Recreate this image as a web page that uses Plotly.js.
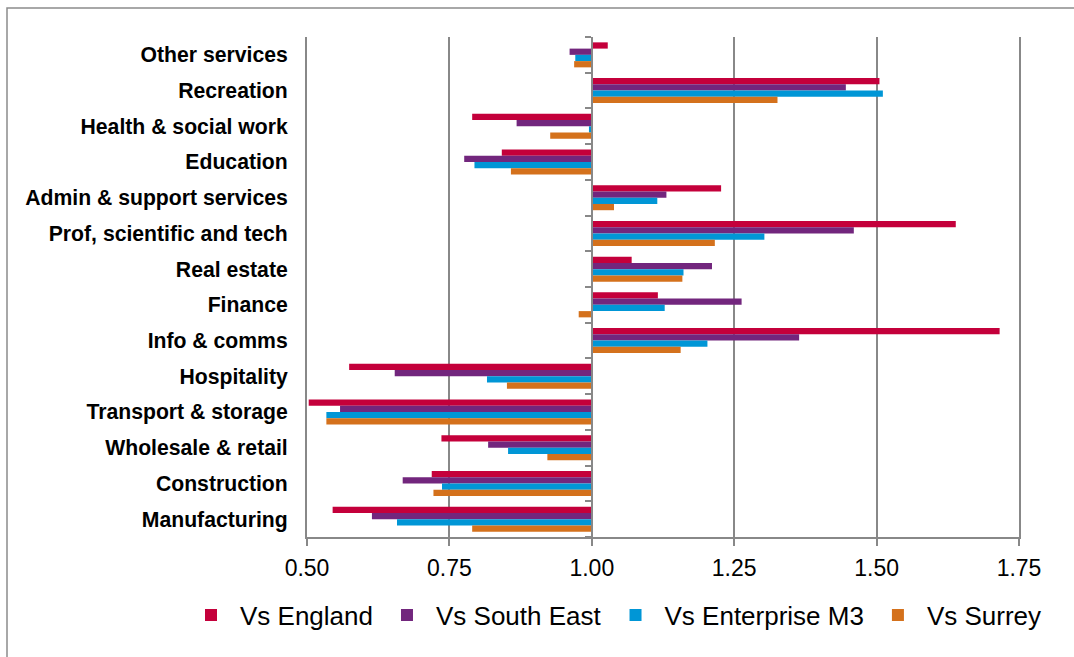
<!DOCTYPE html>
<html>
<head>
<meta charset="utf-8">
<script src="https://cdn.plot.ly/plotly-3.0.1.min.js"></script>
<style>
  html, body { margin: 0; padding: 0; background: #ffffff; }
  #chart { width: 1074px; height: 657px; }
</style>
</head>
<body>
<div id="chart"></div>
<script>
// Categories, top to bottom
const categories = [
  "Other services", "Recreation", "Health & social work", "Education",
  "Admin & support services", "Prof, scientific and tech", "Real estate",
  "Finance", "Info & comms", "Hospitality", "Transport & storage",
  "Wholesale & retail", "Construction", "Manufacturing"
];

const seriesNames = ["Vs England", "Vs South East", "Vs Enterprise M3", "Vs Surrey"];

const vsEngland    = [1.028, 1.505, 0.790, 0.842, 1.227, 1.639, 1.070, 1.116, 1.716, 0.574, 0.503, 0.736, 0.719, 0.545];
const vsSouthEast  = [0.961, 1.446, 0.868, 0.776, 1.131, 1.460, 1.211, 1.263, 1.364, 0.654, 0.558, 0.818, 0.668, 0.614];
const vsEnterprise = [0.971, 1.511, 0.995, 0.794, 1.115, 1.303, 1.161, 1.128, 1.203, 0.816, 0.534, 0.853, 0.737, 0.658];
const vsSurrey     = [0.969, 1.326, 0.927, 0.858, 1.039, 1.216, 1.159, 0.977, 1.156, 0.851, 0.534, 0.922, 0.722, 0.790];

const xTicks = [0.50, 0.75, 1.00, 1.25, 1.50, 1.75];
const baseline = 1.0;

const colors = ["#c4003b", "#72267d", "#0096d6", "#d4711c"];
const allSeries = [vsEngland, vsSouthEast, vsEnterprise, vsSurrey];

const traces = allSeries.map((vals, i) => ({
  type: "bar",
  orientation: "h",
  name: seriesNames[i],
  y: categories,
  x: vals.map(v => v - baseline),
  base: baseline,
  marker: { color: colors[i], line: { width: 0 } },
  customdata: vals,
  hovertemplate: "%{y}: %{customdata}<extra>" + seriesNames[i] + "</extra>"
}));

const xMin = xTicks[0], xMax = xTicks[xTicks.length - 1];
const nCat = categories.length;
const boundaries = [];
for (let k = 0; k <= nCat; k++) boundaries.push(k - 0.5);

const gridColor = "#888888";
const lineW = 2;
const fontFam = "Liberation Sans, Arial, sans-serif";

// pixel helpers
const L = 307, R = 55, T = 37, B = 120, W = 1074, H = 657;
const pw = W - L - R, ph = H - T - B;
const px = p => (p - L) / pw;
const py = p => (H - B - p) / ph;

const layout = {
  width: W, height: H,
  margin: { l: L, r: R, t: T, b: B, pad: 0, autoexpand: false },
  paper_bgcolor: "#ffffff",
  plot_bgcolor: "#ffffff",
  barmode: "group",
  bargap: 0.3,
  bargroupgap: 0,
  showlegend: true,
  legend: {
    orientation: "h",
    x: px(182), xanchor: "left",
    y: py(615), yanchor: "middle",
    itemwidth: 48,
    font: { family: fontFam, size: 26, color: "#000000" },
    traceorder: "normal",
    itemclick: false
  },
  xaxis: {
    range: [xMin, xMax],
    tickvals: xTicks,
    ticktext: xTicks.map(v => v.toFixed(2)),
    showgrid: true,
    gridcolor: gridColor,
    gridwidth: lineW,
    zeroline: false,
    showline: true,
    linecolor: gridColor,
    linewidth: lineW,
    ticks: "outside",
    ticklen: 7,
    tickwidth: lineW,
    tickcolor: gridColor,
    ticklabelstandoff: 2,
    tickfont: { family: fontFam, size: 23, color: "#000000" },
    fixedrange: true
  },
  yaxis: {
    type: "category",
    categoryorder: "array",
    categoryarray: categories,
    autorange: "reversed",
    showgrid: false,
    zeroline: false,
    showline: true,
    mirror: true,
    linecolor: gridColor,
    linewidth: lineW,
    ticks: "",
    ticklabelstandoff: 13,
    tickfont: { family: fontFam, size: 21.2, color: "#000000", weight: 700 },
    fixedrange: true
  },
  yaxis2: {
    overlaying: "y",
    anchor: "free",
    position: (baseline - xMin) / (xMax - xMin),
    side: "left",
    range: [nCat - 0.5, -0.5],
    tickvals: boundaries,
    showticklabels: false,
    showgrid: false,
    zeroline: false,
    showline: true,
    linecolor: gridColor,
    linewidth: lineW,
    ticks: "outside",
    ticklen: 6,
    tickwidth: lineW,
    tickcolor: gridColor,
    fixedrange: true
  },
  shapes: [{
    type: "rect", xref: "paper", yref: "paper",
    x0: px(7), x1: px(1085), y0: py(670), y1: py(8),
    line: { color: "#8c8c8c", width: 1.5 },
    fillcolor: "rgba(0,0,0,0)",
    layer: "above"
  }]
};

// empty trace so the second y axis (the 1.00 baseline with category ticks) is drawn
traces.push({
  type: "scatter", x: [], y: [], yaxis: "y2", showlegend: false, hoverinfo: "skip"
});

Plotly.newPlot("chart", traces, layout, { displayModeBar: false, staticPlot: true });
</script>
</body>
</html>
